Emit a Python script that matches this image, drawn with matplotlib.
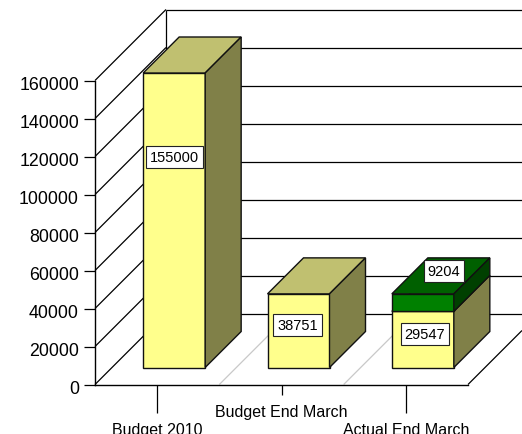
import matplotlib
matplotlib.use("Agg")
import matplotlib.pyplot as plt
from matplotlib.transforms import ScaledTranslation

plt.rcParams["font.family"] = ["Liberation Sans", "DejaVu Sans"]

categories = ["Budget 2010", "Budget End March", "Actual End March"]
yellow_values = [155000, 38751, 29547]
green_values = [0, 0, 9204]
y_ticks = [0, 20000, 40000, 60000, 80000, 100000, 120000, 140000, 160000]

# pixel offsets of the value boxes from the centre of the front face
yellow_label_offsets = [(0, 63), (-1, 6), (2, 5)]
green_label_offset = (21, 32)

W, H = 522, 435
LEFT, RIGHT, TOP, BOTTOM = 95, 468, 81.5, 385.5
DEPTH_PX = 71

fig = plt.figure(figsize=(W / 100, H / 100), dpi=100, facecolor="white")
ax = fig.add_axes([LEFT / W, (H - BOTTOM) / H, (RIGHT - LEFT) / W, (BOTTOM - TOP) / H])
ax.patch.set_visible(False)
ax.set_xlim(0, len(categories))
ax.set_ylim(0, y_ticks[-1])

x_per_px = len(categories) / (RIGHT - LEFT)
y_per_px = y_ticks[-1] / (BOTTOM - TOP)
depth_x = DEPTH_PX * x_per_px
depth_y = DEPTH_PX * y_per_px


def proj(x, y, z):
    return x + z * depth_x, y + z * depth_y


def line(p, q, color="black", lw=0.9, zorder=1):
    ax.plot([p[0], q[0]], [p[1], q[1]], color=color, lw=lw, zorder=zorder,
            clip_on=False, solid_capstyle="butt")


def poly(points, color, zorder):
    ax.fill([p[0] for p in points], [p[1] for p in points], facecolor=color,
            edgecolor="#111111", lw=1.0, zorder=zorder, clip_on=False,
            joinstyle="miter")


def box(x0, x1, y0, y1, z0, z1, colors, zorder):
    front, top, side = colors
    poly([proj(x0, y0, z0), proj(x1, y0, z0), proj(x1, y1, z0), proj(x0, y1, z0)], front, zorder)
    poly([proj(x0, y1, z0), proj(x1, y1, z0), proj(x1, y1, z1), proj(x0, y1, z1)], top, zorder)
    poly([proj(x1, y0, z0), proj(x1, y0, z1), proj(x1, y1, z1), proj(x1, y1, z0)], side, zorder)


# walls, right end is cut by the picture edge
wall_end = (W - LEFT) * x_per_px - depth_x
for v in y_ticks:
    line(proj(0, v, 0), proj(0, v, 1))
    line(proj(0, v, 1), proj(wall_end, v, 1))
line(proj(0, 0, 1), proj(0, y_ticks[-1], 1))

# floor
for i in range(1, len(categories)):
    line(proj(i, 0, 0), proj(i, 0, 1), color="#c8c8c8")
line(proj(len(categories), 0, 0), proj(len(categories), 0, (W - RIGHT) / DEPTH_PX))

# bars
Z0, Z1 = 17 / DEPTH_PX, 53 / DEPTH_PX
BAR_W = 62 * x_per_px
yellow = ("#ffff8c", "#c0c070", "#808048")
green = ("#008000", "#006000", "#004000")
box_style = dict(boxstyle="square,pad=0.27", fc="white", ec="#222222", lw=0.8)

for i, (a, b) in enumerate(zip(yellow_values, green_values)):
    x0 = i + 0.5 - BAR_W / 2
    x1 = x0 + BAR_W
    box(x0, x1, 0, a, Z0, Z1, yellow, 3 + i)
    cx, cy = proj(i + 0.5, a / 2, Z0)
    ax.annotate(str(a), (cx, cy), xytext=yellow_label_offsets[i], textcoords="offset pixels",
                ha="center", va="center", fontsize=10.5, bbox=box_style, zorder=20,
                annotation_clip=False)
    if b:
        box(x0, x1, a, a + b, Z0, Z1, green, 3 + i)
        cx, cy = proj(i + 0.5, a + b / 2, Z0)
        ax.annotate(str(b), (cx, cy), xytext=green_label_offset, textcoords="offset pixels",
                    ha="center", va="center", fontsize=10.5, bbox=box_style, zorder=20,
                    annotation_clip=False)

# axes
for name in ["top", "right"]:
    ax.spines[name].set_visible(False)
for name in ["left", "bottom"]:
    ax.spines[name].set_linewidth(1.0)
    ax.spines[name].set_zorder(2)

ax.set_yticks(y_ticks)
ax.set_yticklabels([str(v) for v in y_ticks])
ax.tick_params(axis="y", length=8, width=0.9, pad=3.6, labelsize=12.8)
for label in ax.get_yticklabels():
    label.set_transform(label.get_transform() + ScaledTranslation(0, -2 / 100, fig.dpi_scale_trans))

# labels alternate between two rows: outer row as major ticks, inner row as minor
ax.set_xticks([i + 0.5 for i in range(0, len(categories), 2)], categories[0::2])
ax.set_xticks([i + 0.5 for i in range(1, len(categories), 2)], categories[1::2], minor=True)
ax.tick_params(axis="x", which="major", length=20.5, width=0.9, pad=6.5, labelsize=11.5)
ax.tick_params(axis="x", which="minor", length=7.5, width=0.9, pad=6.5, labelsize=11.5)

fig.savefig("out.png", dpi=100)
